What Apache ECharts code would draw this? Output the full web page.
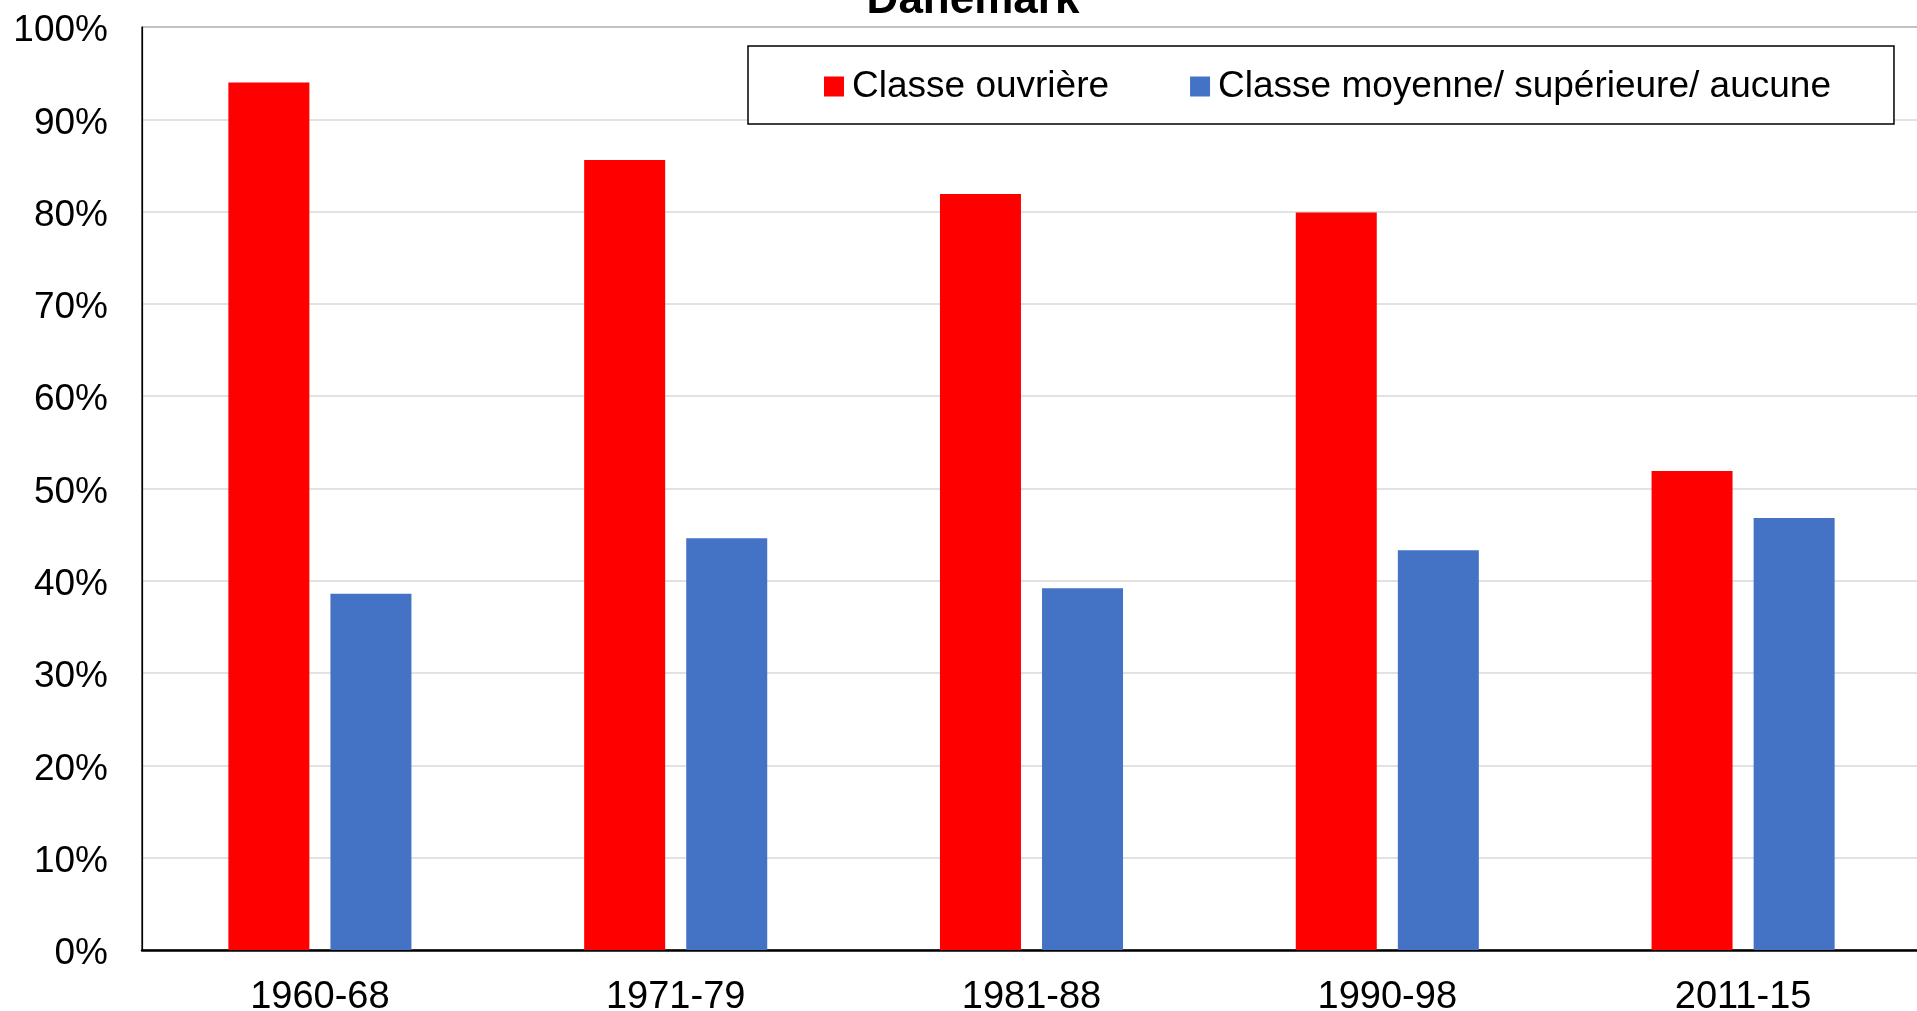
<!DOCTYPE html>
<html>
<head>
<meta charset="utf-8">
<script src="https://cdn.jsdelivr.net/npm/echarts@6/dist/echarts.min.js"></script>
<style>
html,body{margin:0;padding:0;background:#fff;}
#chart{width:1917px;height:1011px;}
</style>
</head>
<body>
<div id="chart"></div>
<script>
const categories = ['1960-68', '1971-79', '1981-88', '1990-98', '2011-15'];
const seriesNames = ['Classe ouvrière', 'Classe moyenne/ supérieure/ aucune'];
const ouvriere = [94.0, 85.6, 81.9, 79.9, 51.9];
const moyenne = [38.6, 44.6, 39.2, 43.3, 46.8];
const titleText = 'Danemark';

const font = '"Liberation Sans", Arial, sans-serif';
const chart = echarts.init(document.getElementById('chart'), null, {renderer: 'canvas'});
chart.setOption({
  backgroundColor: '#ffffff',
  animation: false,
  title: {
    text: titleText,
    left: 973,
    textAlign: 'center',
    top: -21,
    padding: 0,
    textStyle: {fontFamily: font, fontSize: 44, fontWeight: 'bold', color: '#000'}
  },
  legend: {
    left: 748,
    top: 46,
    padding: [22, 63, 19, 76],
    itemWidth: 20,
    itemHeight: 20,
    itemGap: 81,
    icon: 'rect',
    borderColor: '#000',
    borderWidth: 1.5,
    backgroundColor: '#fff',
    textStyle: {fontFamily: font, fontSize: 37, color: '#000', padding: [3, 0, 0, 3]},
    data: seriesNames
  },
  grid: {
    left: 142, top: 27, width: 1779, height: 923,
    outerBoundsMode: 'none',
    containLabel: false,
    show: true, borderColor: '#000', borderWidth: 1.2, backgroundColor: 'transparent'
  },
  xAxis: {
    type: 'category',
    data: categories,
    axisTick: {show: false},
    axisLine: {lineStyle: {color: '#000', width: 2.5}},
    axisLabel: {fontFamily: font, fontSize: 38, color: '#000', margin: 29},
    splitLine: {show: false}
  },
  yAxis: {
    type: 'value',
    min: 0, max: 100, interval: 10,
    axisLine: {show: true, lineStyle: {color: '#000', width: 1.2}},
    axisTick: {show: false},
    axisLabel: {fontFamily: font, fontSize: 37, color: '#000', margin: 34,
                verticalAlign: 'top', lineHeight: 8, formatter: '{value}%'},
    splitLine: {lineStyle: {color: '#d9d9d9', width: 1.5}}
  },
  series: [
    {name: seriesNames[0], type: 'bar', data: ouvriere, barWidth: 81, barGap: '26%',
     itemStyle: {color: '#FF0000'}},
    {name: seriesNames[1], type: 'bar', data: moyenne, barWidth: 81,
     itemStyle: {color: '#4472C4'}}
  ]
});
</script>
</body>
</html>
